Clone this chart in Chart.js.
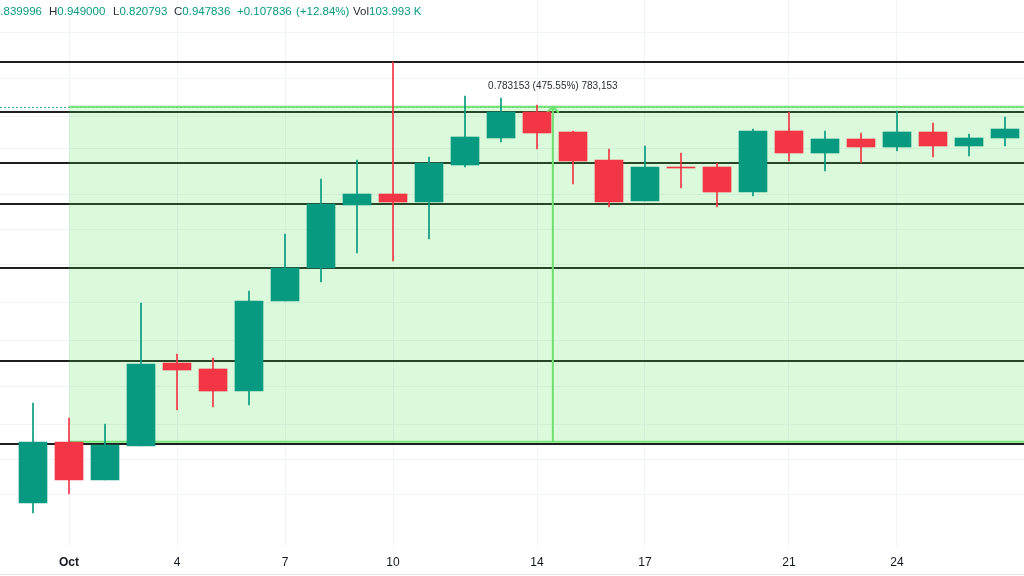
<!DOCTYPE html>
<html><head><meta charset="utf-8">
<script src="https://cdn.jsdelivr.net/npm/chart.js@4.4.1/dist/chart.umd.min.js"></script>
<style>
html,body{margin:0;padding:0;background:#fff;overflow:hidden}
#wrap{position:relative;width:1024px;height:576px}
#c{position:absolute;left:0;top:0}
#hdr{position:absolute;top:5px;left:0;width:1024px;height:18px;font:11.5px "Liberation Sans",Arial,sans-serif;color:#089981;white-space:nowrap}
#hdr span.p{position:absolute;top:0}
.k{color:#2a2e39}
</style></head><body>
<div id="wrap"><canvas id="c" width="1024" height="576"></canvas>
<div id="hdr">
<span class="p" style="left:-15px"><span class="k">O</span>0.839996</span>
<span class="p" style="left:49px"><span class="k">H</span>0.949000</span>
<span class="p" style="left:113px"><span class="k">L</span>0.820793</span>
<span class="p" style="left:174px"><span class="k">C</span>0.947836</span>
<span class="p" style="left:237px">+0.107836</span>
<span class="p" style="left:296px">(+12.84%)</span>
<span class="p" style="left:353px"><span class="k">Vol</span>103.993 K</span>
</div></div>
<script>
const dates = ['Sep 30','Oct 1','Oct 2','Oct 3','Oct 4','Oct 5','Oct 6','Oct 7','Oct 8','Oct 9','Oct 10','Oct 11','Oct 12','Oct 13','Oct 14','Oct 15','Oct 16','Oct 17','Oct 18','Oct 19','Oct 20','Oct 21','Oct 22','Oct 23','Oct 24','Oct 25','Oct 26','Oct 27'];
const opens  = [0.1196,0.1644,0.1348,0.1610,0.2484,0.2408,0.2146,0.3435,0.4081,0.5672,0.6007,0.5761,0.6990,0.8049,0.9220,0.8305,0.7175,0.5791,0.6917,0.6917,0.6070,0.8349,0.7442,0.8007,0.7679,0.8305,0.7719,0.8049];
const highs  = [0.2016,0.1864,0.1806,0.3399,0.2604,0.2550,0.3619,0.4874,0.6497,0.7175,1.1972,0.7288,1.0023,0.9919,0.9563,0.8349,0.7599,0.7719,0.7442,0.7063,0.8436,0.9220,0.8349,0.8262,0.9268,0.8705,0.8219,0.8982];
const lows   = [0.1135,0.1253,0.1348,0.1610,0.1943,0.1974,0.1995,0.3435,0.3793,0.4414,0.4233,0.4749,0.6917,0.7882,0.7599,0.6329,0.5613,0.5791,0.6198,0.5613,0.5945,0.7137,0.6774,0.7063,0.7520,0.7288,0.7326,0.7719];
const closes = [0.1644,0.1348,0.1619,0.2471,0.2395,0.2146,0.3435,0.4081,0.5701,0.6007,0.5761,0.7063,0.8091,0.9220,0.8262,0.7137,0.5761,0.6917,0.6881,0.6070,0.8349,0.7442,0.8007,0.7679,0.8305,0.7719,0.8049,0.8436];

const tickIndexes = [1,4,7,10,14,17,21,24];
const tickLabels  = ['Oct','4','7','10','14','17','21','24'];
const gridPrices  = [1.40,1.10,0.90,0.76,0.60,0.50,0.415,0.34,0.28,0.22,0.18,0.15,0.125];
const levelPrices = [1.1972,0.9220,0.7063,0.5701,0.4081,0.2510,0.1627];
const lastPrice   = 0.947836;
const rangeLow    = 0.164683;
const rangeHigh   = 0.947836;
const rangeStartIndex = 1;
const arrowIndex  = 14.44;
const rangeLabel  = '0.783153 (475.55%) 783,153';

const UP = '#089981', DOWN = '#F23645';
const colors = opens.map((o,i)=> closes[i] >= o ? UP : DOWN);

const overlay = {
  id:'overlay',
  beforeDatasetsDraw(chart){
    const {ctx, scales:{x,y}} = chart;
    const W = chart.width;
    ctx.save();
    ctx.strokeStyle = '#1e1e1e'; ctx.lineWidth = 2;
    levelPrices.forEach(p=>{
      const py = Math.round(y.getPixelForValue(p));
      ctx.beginPath(); ctx.moveTo(0,py); ctx.lineTo(W,py); ctx.stroke();
    });
    const lp = Math.round(y.getPixelForValue(lastPrice)) + 0.5;
    ctx.setLineDash([2,2]); ctx.strokeStyle = 'rgba(8,153,129,0.8)'; ctx.lineWidth = 1;
    ctx.beginPath(); ctx.moveTo(0,lp); ctx.lineTo(W,lp); ctx.stroke();
    ctx.setLineDash([]);
    const bx = x.getPixelForValue(rangeStartIndex);
    const yT = y.getPixelForValue(rangeHigh), yB = y.getPixelForValue(rangeLow);
    ctx.fillStyle = 'rgba(76,230,76,0.2)';
    ctx.fillRect(bx, yT, W - bx, yB - yT);
    ctx.strokeStyle = '#74e274'; ctx.lineWidth = 2;
    ctx.beginPath(); ctx.moveTo(bx,yT); ctx.lineTo(W,yT); ctx.moveTo(bx,yB); ctx.lineTo(W,yB); ctx.stroke();
    const ax = x.getPixelForValue(arrowIndex);
    ctx.strokeStyle = '#6ee06e'; ctx.lineWidth = 2;
    ctx.beginPath(); ctx.moveTo(ax,yB); ctx.lineTo(ax,yT); ctx.stroke();
    ctx.beginPath(); ctx.moveTo(ax-6,yT+6); ctx.lineTo(ax,yT); ctx.lineTo(ax+6,yT+6); ctx.stroke();
    ctx.fillStyle = '#2a2e39';
    ctx.font = '10px "Liberation Sans", Arial, sans-serif';
    ctx.textAlign = 'center'; ctx.textBaseline = 'middle';
    ctx.fillText(rangeLabel, ax, yT - 20);
    ctx.restore();
  },
  afterDraw(chart){
    const ctx = chart.ctx;
    ctx.save();
    ctx.strokeStyle = '#e0e3eb'; ctx.lineWidth = 1;
    ctx.beginPath(); ctx.moveTo(0,574.5); ctx.lineTo(chart.width,574.5); ctx.stroke();
    ctx.restore();
  }
};

new Chart(document.getElementById('c'), {
  type:'bar',
  data:{
    labels: dates,
    datasets:[
      { label:'body', data: opens.map((o,i)=>({x:i, y:[o, closes[i]]})), backgroundColor: colors,
        borderWidth:0, barThickness:28, grouped:false, minBarLength:1 },
      { label:'wick', data: lows.map((l,i)=>({x:i, y:[l, highs[i]]})), backgroundColor: colors,
        borderWidth:0, barThickness:1, grouped:false }
    ]
  },
  options:{
    responsive:false, animation:false, devicePixelRatio:1,
    layout:{padding:{left:0,right:0,top:0,bottom:0}},
    plugins:{legend:{display:false}, tooltip:{enabled:false}},
    scales:{
      x:{
        type:'linear', min:-0.9167, max:27.5278, offset:false,
        grid:{color:'#f0f3fa', drawTicks:false, offset:false},
        border:{display:false},
        afterBuildTicks: s => { s.ticks = tickIndexes.map(v=>({value:v})); },
        afterFit: s => { s.height = 30; },
        ticks:{
          autoSkip:false, maxRotation:0, padding:9.6, color:'#131722',
          font: c => ({family:'"Liberation Sans", Arial, sans-serif', size:12, weight: (c.tick && c.tick.value===1) ? 'bold' : 'normal'}),
          callback: v => tickLabels[tickIndexes.indexOf(v)]
        }
      },
      y:{
        type:'logarithmic', position:'right', min:0.095499, max:1.65514,
        grid:{color:'#f0f3fa', drawTicks:false},
        border:{display:false},
        afterBuildTicks: s => { s.ticks = gridPrices.map(v=>({value:v})); },
        ticks:{display:false},
        afterFit: s => { s.width = 0; }
      }
    }
  },
  plugins:[overlay]
});
</script>
</body></html>
